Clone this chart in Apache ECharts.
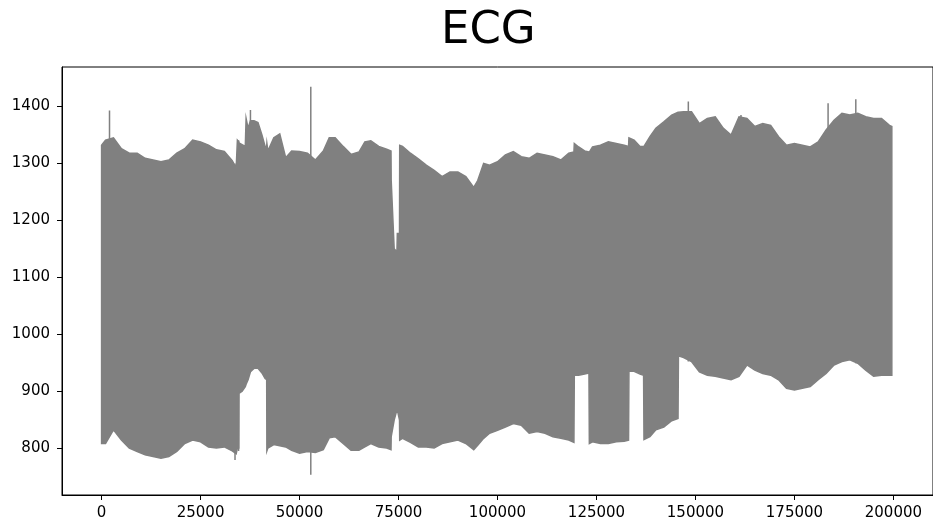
<!DOCTYPE html>
<html>
<head>
<meta charset="utf-8">
<title>ECG</title>
<script src="https://cdn.jsdelivr.net/npm/echarts@6/dist/echarts.min.js"></script>
<style>
  html, body { margin: 0; padding: 0; background: #fff; }
  #chart { width: 933px; height: 525px; }
</style>
</head>
<body>
<div id="chart"></div>
<script>
// ECG trace summarised as a min/max envelope sampled at sampleX:
// the filled band runs along sampleHigh and back along sampleLow.
const sampleX = [
  0, 1000, 3000, 5000, 7000, 9000, 11000, 13000, 15000, 17000,
  19000, 21000, 23000, 25000, 27000, 29000, 31000, 33000, 34000, 34300,
  34650, 34700, 35500, 36300, 36500, 37000, 37600, 38500, 39500, 40500,
  41300, 41700, 41750, 42000, 43500, 45000, 46500, 48000, 50000, 52000,
  54000, 56000, 57500, 59000, 61000, 63000, 65000, 66500, 68000, 70000,
  72000, 73100, 73150, 73900, 74600, 74700, 75250, 75300, 76000, 78000,
  80000, 82000, 84000, 86000, 88000, 90000, 92000, 94000, 95000, 96500,
  98000, 100000, 102000, 104000, 106000, 108000, 110000, 112000, 114000, 116000,
  118000, 119300, 119400, 120500, 122000, 123100, 123200, 124000, 126000, 128000,
  130000, 132000, 133100, 133200, 134500, 136000, 136900, 137000, 138500, 140000,
  142000, 144000, 145600, 145700, 147000, 149000, 151000, 153000, 155000, 157000,
  159000, 161000, 163000, 165000, 167000, 169000, 171000, 173000, 175000, 177000,
  179000, 181000, 183000, 185000, 187000, 189000, 191000, 193000, 195000, 197000,
  199000, 199600
];
const sampleHigh = [
  1332, 1341, 1345, 1326, 1318, 1318, 1309, 1306, 1303, 1306,
  1318, 1326, 1341, 1338, 1332, 1324, 1321, 1305, 1292, 1341,
  1338, 1336, 1333, 1330, 1379, 1362, 1375, 1375, 1372, 1350,
  1330, 1330, 1335, 1322, 1345, 1352, 1310, 1322, 1321, 1318,
  1306, 1322, 1345, 1345, 1330, 1316, 1320, 1338, 1340, 1330,
  1325, 1322, 1270, 1150, 1145, 1177, 1177, 1332, 1330, 1318,
  1308, 1297, 1288, 1277, 1285, 1285, 1277, 1258, 1270, 1300,
  1297, 1303, 1315, 1321, 1312, 1309, 1318, 1315, 1312, 1306,
  1318, 1320, 1335, 1329, 1322, 1320, 1320, 1329, 1332, 1338,
  1335, 1332, 1330, 1345, 1341, 1330, 1330, 1330, 1347, 1362,
  1373, 1385, 1390, 1390, 1391, 1391, 1370, 1379, 1382, 1362,
  1350, 1382, 1379, 1365, 1370, 1367, 1347, 1332, 1335, 1332,
  1329, 1338, 1359, 1376, 1388, 1385, 1388, 1382, 1379, 1379,
  1367, 1365
];
const sampleLow = [
  808, 808, 832, 814, 800, 794, 788, 785, 782, 785,
  794, 808, 814, 811, 802, 800, 802, 795, 790, 800,
  800, 896, 900, 908, 912, 920, 934, 940, 940, 932,
  922, 920, 795, 800, 806, 804, 802, 796, 791, 794,
  792, 797, 818, 820, 808, 796, 796, 802, 808, 802,
  800, 797, 820, 849, 867, 867, 849, 814, 817, 810,
  802, 802, 800, 808, 811, 814, 808, 797, 805, 817,
  826, 831, 837, 843, 840, 826, 829, 826, 820, 817,
  814, 810, 928, 928, 930, 932, 808, 811, 808, 808,
  811, 812, 814, 935, 935, 930, 928, 815, 820, 832,
  837, 848, 852, 962, 959, 952, 934, 928, 926, 923,
  920, 926, 946, 937, 931, 928, 920, 905, 902, 905,
  908, 920, 931, 946, 952, 955, 949, 937, 926, 928,
  928, 928
];

// Isolated beats that reach beyond the envelope
const spikeX    = [2000, 33700, 34600, 37600, 52840, 148200, 161500, 183500, 190500];
const spikeHigh = [1393, 1300, 1341, 1394, 1435, 1409, 1385, 1406, 1413];
const spikeLow  = [ 830,  779,  795,  934,  753,  952,  946,  946,  949];

// Axis tick labels
const xTicks = [0, 25000, 50000, 75000, 100000, 125000, 150000, 175000, 200000];
const yTicks = [800, 900, 1000, 1100, 1200, 1300, 1400];

const band = sampleX.map((x, i) => [x, sampleLow[i], sampleHigh[i]]);
const spikes = spikeX.map((x, i) => [x, spikeLow[i], spikeHigh[i]]);

const traceColor = '#808080';
const font = '"DejaVu Sans", sans-serif';

const chart = echarts.init(document.getElementById('chart'), null, { renderer: 'canvas' });

chart.setOption({
  animation: false,
  backgroundColor: '#ffffff',
  title: {
    text: 'ECG',
    left: 436,
    top: 4,
    textStyle: { fontFamily: font, fontSize: 45, fontWeight: 'normal', color: '#000' }
  },
  grid: {
    left: 62, top: 67, right: -6, bottom: 30,
    show: true, borderColor: '#000', borderWidth: 1, backgroundColor: 'transparent'
  },
  xAxis: {
    type: 'value',
    min: -10000, max: 210000,
    axisLine: { show: true, onZero: false, lineStyle: { color: '#000', width: 1 } },
    axisTick: { show: true, inside: false, length: 5, customValues: xTicks, lineStyle: { color: '#000' } },
    axisLabel: {
      show: true, margin: 11, customValues: xTicks, fontFamily: font, fontSize: 15, color: '#000',
      formatter: v => String(v)
    },
    splitLine: { show: false }
  },
  yAxis: {
    type: 'value',
    min: 717.5, max: 1469.5,
    axisLine: { show: true, onZero: false, lineStyle: { color: '#000', width: 1 } },
    axisTick: { show: true, inside: false, length: 5, customValues: yTicks, lineStyle: { color: '#000' } },
    axisLabel: {
      show: true, margin: 12, customValues: yTicks, fontFamily: font, fontSize: 15, color: '#000',
      formatter: v => String(v)
    },
    splitLine: { show: false }
  },
  series: [
    {
      // One polygon: upper edge left to right, lower edge right to left
      type: 'custom',
      name: 'ECG',
      clip: true,
      data: band,
      encode: { x: 0, y: [1, 2] },
      renderItem: function (params, api) {
        if (params.dataIndex !== 0) return null;
        const upper = band.map(d => api.coord([d[0], d[2]]));
        const lower = band.map(d => api.coord([d[0], d[1]])).reverse();
        return {
          type: 'polygon',
          shape: { points: upper.concat(lower) },
          style: { fill: traceColor, stroke: traceColor, lineWidth: 1.5, lineJoin: 'miter' }
        };
      }
    },
    {
      type: 'custom',
      name: 'beats',
      clip: true,
      data: spikes,
      encode: { x: 0, y: [1, 2] },
      renderItem: function (params, api) {
        const top = api.coord([api.value(0), api.value(2)]);
        const bottom = api.coord([api.value(0), api.value(1)]);
        return {
          type: 'line',
          shape: { x1: top[0], y1: top[1], x2: bottom[0], y2: bottom[1] },
          style: { stroke: traceColor, lineWidth: 1.5 }
        };
      }
    }
  ]
});
</script>
</body>
</html>
